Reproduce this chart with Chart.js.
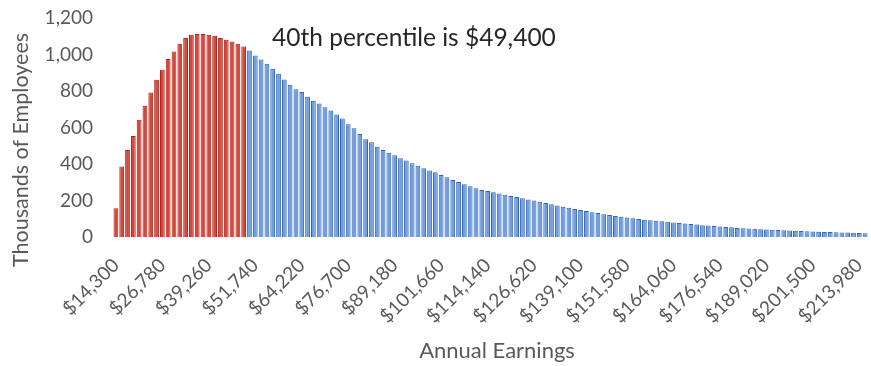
<!DOCTYPE html>
<html>
<head>
<meta charset="utf-8">
<script src="https://cdn.jsdelivr.net/npm/chart.js@4.4.1/dist/chart.umd.min.js"></script>
<style>
  html, body { margin: 0; padding: 0; background: #fff; }
  #wrap { width: 871px; height: 366px; }
</style>
</head>
<body>
<div id="wrap"><canvas id="chart"></canvas></div>
<script>
// earnings bins: $14,300 and up, $1,560 wide
const binStart = 14300
const binWidth = 1560
const percentileIndex = 22   // bin holding $49,400 (last red bar)

// thousands of employees per bin
const employees = [
  157, 386, 477, 554, 642, 719, 792, 861, 916, 975,
  1017, 1059, 1090, 1108, 1112, 1112, 1108, 1103, 1090, 1081,
  1071, 1059, 1044, 1022, 995, 973, 949, 922, 894, 863,
  834, 810, 795, 768, 746, 731, 711, 693, 671, 649,
  618, 596, 565, 536, 519, 495, 477, 462, 448, 432,
  419, 404, 391, 377, 364, 355, 340, 327, 313, 302,
  289, 278, 267, 258, 252, 245, 238, 231, 225, 219,
  212, 206, 200, 193, 186, 179, 173, 166, 160, 154,
  148, 142, 136, 131, 125, 120, 115, 111, 107, 103,
  99, 95, 92, 89, 86, 83, 80, 77, 74, 71,
  68, 65, 63, 60, 58, 55, 53, 50, 48, 46,
  45, 43, 41, 40, 38, 37, 35, 34, 33, 32,
  30, 29, 28, 27, 26, 25, 24, 23, 22, 21
]

const yTicks = [0, 200, 400, 600, 800, 1000, 1200]
const labelEvery = 8

const categories = employees.map((_, i) => "$" + (binStart + i * binWidth).toLocaleString("en-US"))

const fillColors = employees.map((_, i) => i <= percentileIndex ? "#d9473b" : "#6e9fe3")
const edgeColors = employees.map((_, i) => i <= percentileIndex ? "#a3281f" : "#3563ad")

const FONT = "Lato, 'Open Sans', sans-serif"
const GREY = "#595959"

// note + axis titles, placed where the original had them
const textPlugin = {
  id: "texts",
  afterDraw(chart) {
    const ctx = chart.ctx
    ctx.save()
    ctx.textBaseline = "middle"

    ctx.font = "24.5px " + FONT
    ctx.fillStyle = "#262626"
    ctx.textAlign = "left"
    ctx.fillText("40th percentile is $49,400", 272, 38)

    ctx.fillStyle = GREY
    ctx.textAlign = "center"
    ctx.font = "22px " + FONT
    ctx.fillText("Annual Earnings", 497, 351)

    ctx.font = "21.5px " + FONT
    ctx.translate(21, 150)
    ctx.rotate(-Math.PI / 2)
    ctx.fillText("Thousands of Employees", 0, 0)
    ctx.restore()
  }
}

new Chart(document.getElementById("chart"), {
  type: "bar",
  data: {
    labels: categories,
    datasets: [{
      data: employees,
      backgroundColor: fillColors,
      borderColor: edgeColors,
      borderWidth: 1,
      barPercentage: 0.82,
      categoryPercentage: 1
    }]
  },
  options: {
    responsive: true,
    maintainAspectRatio: false,
    animation: false,
    layout: { padding: { top: 18, right: 3, bottom: 0, left: 0 } },
    plugins: {
      legend: { display: false },
      tooltip: { enabled: false }
    },
    scales: {
      x: {
        grid: { display: false, drawTicks: false },
        border: { display: false },
        ticks: {
          autoSkip: false,
          maxRotation: 45,
          minRotation: 45,
          padding: 17,
          color: GREY,
          font: { family: FONT, size: 19 },
          callback: (v, i) => i % labelEvery === 0 ? categories[i] : ""
        },
        afterFit: s => {
          s.height = 129
          s.paddingLeft = 0
          s.paddingRight = 0
        }
      },
      y: {
        min: 0,
        max: 1200,
        grid: { display: false, drawTicks: false },
        border: { display: false },
        afterBuildTicks: s => { s.ticks = yTicks.map(v => ({ value: v })) },
        ticks: {
          padding: 20,
          color: GREY,
          font: { family: FONT, size: 19 },
          callback: v => v.toLocaleString("en-US")
        },
        afterFit: s => {
          s.width = 113
          s.paddingTop = 0
          s.paddingBottom = 0
        }
      }
    }
  },
  plugins: [textPlugin]
})
</script>
</body>
</html>
